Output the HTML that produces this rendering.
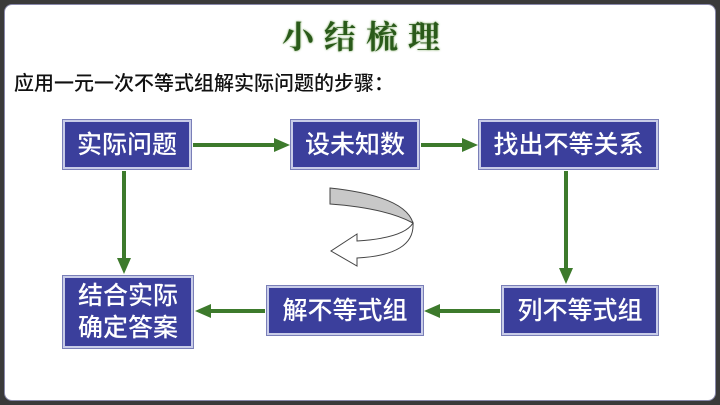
<html><head><style>
body{margin:0;width:720px;height:405px;background:#3a3a3a;position:relative;overflow:hidden;font-family:"Liberation Sans","Noto Sans CJK SC",sans-serif}
.frame{position:absolute;left:4px;top:4px;width:710px;height:395px;background:#fff;border:1px solid #8888aa;border-radius:8px}
.box{position:absolute;background:#3b3f9c;border:2px solid #c8cce8;box-shadow:0 0 0 1px #7a7fb8;color:#fff;font-size:25px;font-weight:500;display:flex;align-items:center;justify-content:center;text-align:center;line-height:32px;box-sizing:border-box}
.t{position:absolute;left:282px;top:12px;font-size:32px;font-weight:bold;color:#2a5a1a;letter-spacing:10px;font-family:"Noto Serif CJK SC",serif;text-shadow:0 0 2px #6a9a4a}
.s{position:absolute;left:14px;top:67px;font-size:20px;font-weight:500;color:#111}
</style></head><body>
<div class="frame"></div>
<div class="t">小结梳理</div>
<div class="s">应用一元一次不等式组解实际问题的步骤：</div>
<div class="box" style="left:63px;top:120px;width:128px;height:49px">实际问题</div>
<div class="box" style="left:291px;top:120px;width:128px;height:49px">设未知数</div>
<div class="box" style="left:479px;top:120px;width:179px;height:49px">找出不等关系</div>
<div class="box" style="left:63px;top:276px;width:130px;height:72px">结合实际<br>确定答案</div>
<div class="box" style="left:267px;top:286px;width:156px;height:49px">解不等式组</div>
<div class="box" style="left:502px;top:286px;width:156px;height:49px">列不等式组</div>
<svg width="720" height="405" style="position:absolute;left:0;top:0">
<g stroke="#3d7a2c" stroke-width="4" fill="#3d7a2c">
<line x1="193" y1="145" x2="276" y2="145"/><polygon points="290,145 274,138 274,152" stroke="none"/>
<line x1="421" y1="145" x2="464" y2="145"/><polygon points="478,145 462,138 462,152" stroke="none"/>
<line x1="566" y1="171" x2="566" y2="270"/><polygon points="566,284 559,268 573,268" stroke="none"/>
<line x1="500" y1="311" x2="438" y2="311"/><polygon points="424,311 440,304 440,318" stroke="none"/>
<line x1="265" y1="311" x2="209" y2="311"/><polygon points="195,311 211,304 211,318" stroke="none"/>
<line x1="124" y1="171" x2="124" y2="260"/><polygon points="124,274 117,258 131,258" stroke="none"/>
</g>
<path d="M330,188 L330,204 Q385,208 413,223 Q405,196 330,188 Z" fill="#c8c8c8" stroke="#444" stroke-width="1"/>
<path d="M413,223 Q404,238 357,241 L357,234 L331,251 L357,266 L357,258 Q415,255 413,223 Z" fill="#fff" stroke="#444" stroke-width="1"/>
</svg>
</body></html>
